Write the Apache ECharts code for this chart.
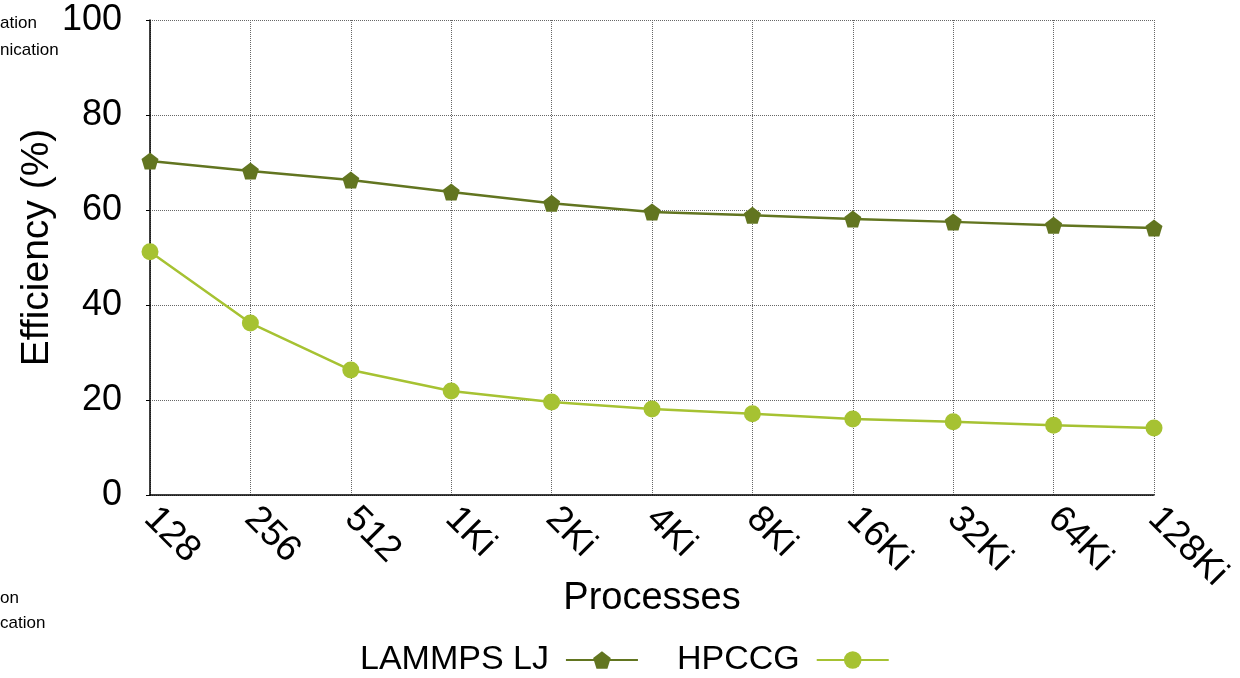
<!DOCTYPE html>
<html>
<head>
<meta charset="utf-8">
<script src="https://cdn.jsdelivr.net/npm/echarts@6/dist/echarts.min.js"></script>
<style>html,body{margin:0;padding:0;background:#fff;}#c{width:1240px;height:678px;}</style>
</head>
<body>
<div id="c"></div>
<script>
const categories = ['128','256','512','1Ki','2Ki','4Ki','8Ki','16Ki','32Ki','64Ki','128Ki'];
const lammps = [70.3, 68.2, 66.3, 63.8, 61.4, 59.6, 58.9, 58.1, 57.5, 56.8, 56.2];
const hpccg = [51.2, 36.2, 26.3, 21.9, 19.6, 18.1, 17.1, 16.0, 15.4, 14.7, 14.1];
const yTicks = [0, 20, 40, 60, 80, 100];

const FONT = 'Liberation Sans';
const pentagon = 'path://M50,0 L100,38 L81,100 L19,100 L0,38 Z';
const smallFont = '17px "Liberation Sans"';
const chart = echarts.init(document.getElementById('c'));
chart.setOption({
  animation: false,
  textStyle: { fontFamily: FONT },
  grid: { left: 150, right: 86, top: 20, bottom: 183, containLabel: false },
  graphic: [
    { type: 'text', style: { text: 'ation', x: 0, y: 23, align: 'left', verticalAlign: 'middle', font: smallFont, fill: '#000' } },
    { type: 'text', style: { text: 'nication', x: 0, y: 50, align: 'left', verticalAlign: 'middle', font: smallFont, fill: '#000' } },
    { type: 'text', style: { text: 'on', x: 0, y: 598, align: 'left', verticalAlign: 'middle', font: smallFont, fill: '#000' } },
    { type: 'text', style: { text: 'cation', x: 0, y: 623, align: 'left', verticalAlign: 'middle', font: smallFont, fill: '#000' } }
  ],
  legend: {
    bottom: -4, left: 355,
    align: 'right',
    itemWidth: 72, itemHeight: 22, itemGap: 38,
    textStyle: { fontSize: 34, color: '#000', fontFamily: FONT, padding: [0, 12, 0, 0] },
    data: ['LAMMPS LJ', 'HPCCG']
  },
  xAxis: {
    type: 'category', data: categories, boundaryGap: false,
    name: 'Processes', nameLocation: 'middle', nameGap: 85, nameMoveOverlap: false,
    nameTextStyle: { fontSize: 38, color: '#000', fontFamily: FONT },
    axisLine: { lineStyle: { color: '#000', width: 1.5 } },
    axisTick: { show: false },
    axisLabel: { rotate: -45, fontSize: 37, color: '#000', margin: 18, fontFamily: FONT },
    splitLine: { show: true, lineStyle: { type: 'dotted', color: '#666', width: 1 } }
  },
  yAxis: {
    type: 'value', min: 0, max: 100, interval: 20,
    name: 'Efficiency (%)', nameLocation: 'middle', nameGap: 93, nameMoveOverlap: false,
    nameTextStyle: { fontSize: 39, color: '#000', fontFamily: FONT, padding: [0, 0, 0, 20] },
    axisLine: { show: true, lineStyle: { color: '#000', width: 1.5 } },
    axisTick: { show: true, length: 4, lineStyle: { color: '#000' } },
    axisLabel: { fontSize: 36, color: '#000', margin: 28, fontFamily: FONT,
      formatter: v => yTicks.includes(v) ? String(v) : '' },
    splitLine: { show: true, lineStyle: { type: 'dotted', color: '#666', width: 1 } }
  },
  series: [
    { name: 'LAMMPS LJ', type: 'line', data: lammps, symbol: pentagon, symbolSize: 17,
      itemStyle: { color: '#627520' }, lineStyle: { color: '#627520', width: 2.5 } },
    { name: 'HPCCG', type: 'line', data: hpccg, symbol: 'circle', symbolSize: 17,
      itemStyle: { color: '#a6c232' }, lineStyle: { color: '#a6c232', width: 2.5 } }
  ]
});
</script>
</body>
</html>
